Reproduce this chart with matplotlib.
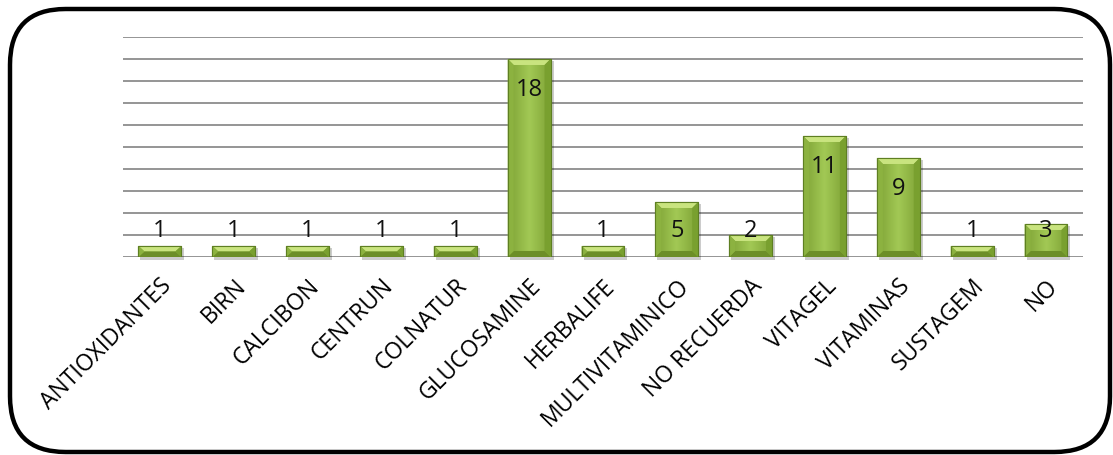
import numpy as np
import matplotlib
matplotlib.use("Agg")
import matplotlib.pyplot as plt
from matplotlib.patches import FancyBboxPatch, Polygon
from matplotlib.colors import LinearSegmentedColormap

# --------------------
# Data
# --------------------
categories = ["ANTIOXIDANTES", "BIRN", "CALCIBON", "CENTRUN", "COLNATUR",
              "GLUCOSAMINE", "HERBALIFE", "MULTIVITAMINICO", "NO RECUERDA",
              "VITAGEL", "VITAMINAS", "SUSTAGEM", "NO"]
counts = [1, 1, 1, 1, 1, 18, 1, 5, 2, 11, 9, 1, 3]

plt.rcParams["font.family"] = ["Open Sans", "DejaVu Sans"]

fig = plt.figure(figsize=(11.13, 4.55), dpi=100)
ax = fig.add_axes([0.1105, 0.4352, 0.8625, 0.4835])

ax.set_xlim(-0.5, len(categories) - 0.5)
ax.set_ylim(0, 20)
ax.set_yticks(np.arange(0, 21, 2))
ax.yaxis.grid(True, color="#8c8c8c", linewidth=1.3)
ax.set_axisbelow(True)
for s in ax.spines.values():
    s.set_visible(False)
ax.tick_params(axis="y", left=False, labelleft=False)
ax.tick_params(axis="x", bottom=False, pad=9)

x = np.arange(len(categories))
bar_w = 0.58
bars = ax.bar(x, counts, width=bar_w, color="#9bc24a", edgecolor="#5e7f22",
              linewidth=0.8, zorder=3)

# gradient + bevel look for each bar
cmap = LinearSegmentedColormap.from_list("g", ["#7ea235", "#a2c955", "#7ea235"])
grad = np.linspace(0, 1, 64).reshape(1, -1)
bbox = ax.get_window_extent()
px_x = len(categories) / bbox.width
px_y = 20 / bbox.height
for b, v in zip(bars, counts):
    x0, x1 = b.get_x(), b.get_x() + b.get_width()
    im = ax.imshow(grad, extent=(x0, x1, 0, v), aspect="auto", cmap=cmap,
                   zorder=3.5, interpolation="bicubic")
    im.set_clip_path(b)
    bx = min(6 * px_x, (x1 - x0) / 2)
    by = min(6 * px_y, v / 2)
    # top bevel
    ax.add_patch(Polygon([(x0, v), (x1, v), (x1 - bx, v - by), (x0 + bx, v - by)],
                         closed=True, facecolor="#c9e47f", edgecolor="none", zorder=4))
    # bottom bevel
    ax.add_patch(Polygon([(x0, 0), (x1, 0), (x1 - bx, by), (x0 + bx, by)],
                         closed=True, facecolor="#6c8e28", edgecolor="none", zorder=4))
    # sides
    ax.add_patch(Polygon([(x0, 0), (x0, v), (x0 + bx, v - by), (x0 + bx, by)],
                         closed=True, facecolor="#8cb240", edgecolor="none", zorder=4))
    ax.add_patch(Polygon([(x1, 0), (x1, v), (x1 - bx, v - by), (x1 - bx, by)],
                         closed=True, facecolor="#79a02f", edgecolor="none", zorder=4))
    # outline on top
    ax.add_patch(Polygon([(x0, 0), (x0, v), (x1, v), (x1, 0)], closed=True,
                         facecolor="none", edgecolor="#5e7f22", linewidth=0.8, zorder=4.5))
    # shadow
    ax.add_patch(Polygon([(x0 + 2 * px_x, -3 * px_y), (x1 + 3 * px_x, -3 * px_y),
                          (x1 + 3 * px_x, v - 2 * px_y), (x0 + 2 * px_x, v - 2 * px_y)],
                         closed=True, facecolor="#000000", alpha=0.2, edgecolor="none",
                         zorder=2.9, clip_on=False))

# value labels: inside near the top, but never lower than a floor
for xi, v in zip(x, counts):
    ly = max(v - 2.8, 2.4)
    ax.text(xi, ly, str(v), ha="center", va="center", fontsize=17,
            color="#111111", zorder=6)

ax.set_xticks(x)
ax.set_xticklabels(categories, rotation=45, ha="right", va="top",
                   rotation_mode="anchor", fontsize=16.5)

# rounded frame around the chart
frame = FancyBboxPatch((10 / 1113, 3 / 455), 1100 / 1113, 443 / 455,
                       boxstyle="round,pad=0,rounding_size=0.05",
                       transform=fig.transFigure, facecolor="none",
                       edgecolor="black", linewidth=3.2, mutation_aspect=1113 / 455)
fig.patches.append(frame)

fig.savefig("out.png", dpi=100)
